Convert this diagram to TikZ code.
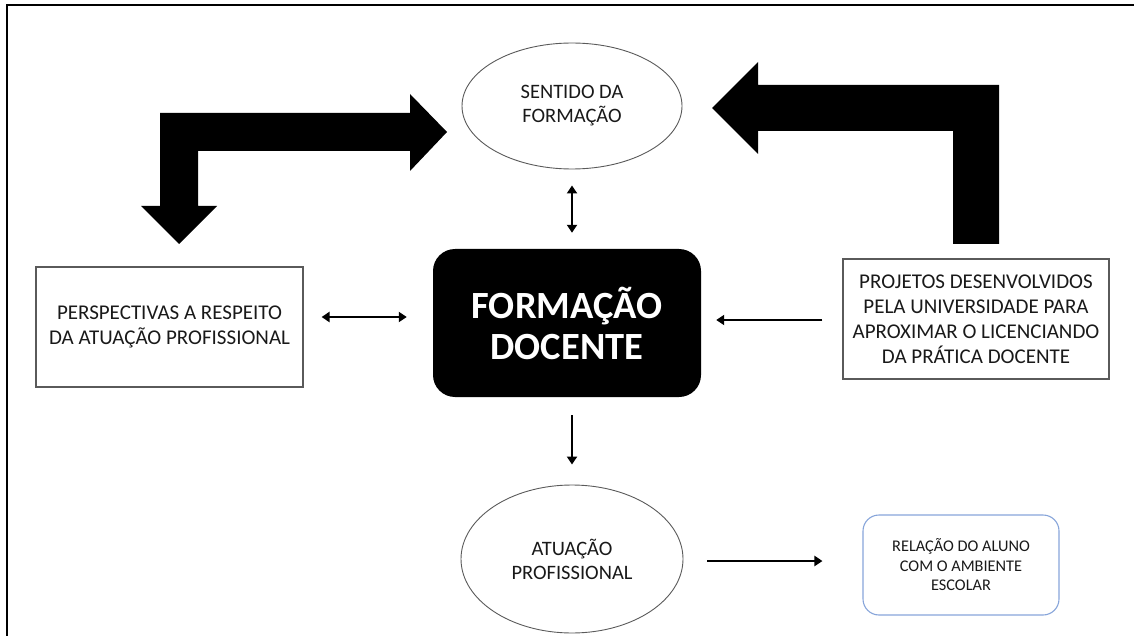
\documentclass[tikz,border=0pt]{standalone}
\usepackage{fontspec}
\setmainfont{Carlito}
\usetikzlibrary{shapes.geometric,arrows.meta}
\definecolor{txt}{RGB}{25,25,25}
\definecolor{edge}{RGB}{90,90,90}
\definecolor{blueedge}{RGB}{135,165,218}
\tikzset{
  ell/.style={ellipse,draw=edge,line width=0.9pt,inner sep=0pt,align=center,text=txt,font=\fontsize{20.5}{24}\selectfont},
  sqbox/.style={rectangle,draw=edge,line width=1.1pt,inner sep=0pt,align=center,text=txt,font=\fontsize{21}{25}\selectfont},
  mainbox/.style={rectangle,fill=black,rounded corners=22pt,inner sep=0pt,align=center,text=white,font=\fontsize{38.5}{41}\selectfont\bfseries},
  bluebox/.style={rectangle,draw=blueedge,line width=1.1pt,rounded corners=16pt,inner sep=0pt,align=center,text=txt,font=\fontsize{16.3}{19.5}\selectfont},
  conn/.style={line width=2.2pt,-{Triangle[length=8pt,width=10pt]}},
  dconn/.style={line width=2.2pt,{Triangle[length=8pt,width=10pt]}-{Triangle[length=8pt,width=10pt]}},
  bigarrow/.style={fill=black,draw=none}
}
\begin{document}
\begin{tikzpicture}[x=1pt,y=-1pt]
\useasboundingbox (0,0) rectangle (1134,636);
% frame
\draw[line width=1.6pt] (7,637) -- (7,5) -- (1135,5);

% nodes
\node[ell,minimum width=220pt,minimum height=126pt] (sent) at (572,106) {SENTIDO DA\\FORMAÇÃO};
\node[mainbox,minimum width=268pt,minimum height=148pt] (main) at (567,323) {FORMAÇÃO\\DOCENTE};
\node[sqbox,minimum width=267pt,minimum height=120pt] (persp) at (169.5,327) {PERSPECTIVAS A RESPEITO\\DA ATUAÇÃO PROFISSIONAL};
\node[sqbox,minimum width=266pt,minimum height=120pt] (proj) at (976,319) {PROJETOS DESENVOLVIDOS\\PELA UNIVERSIDADE PARA\\APROXIMAR O LICENCIANDO\\DA PRÁTICA DOCENTE};
\node[ell,minimum width=222pt,minimum height=148pt] (atua) at (572,559) {ATUAÇÃO\\PROFISSIONAL};
\node[bluebox,minimum width=196pt,minimum height=100pt] (rel) at (961,565) {RELAÇÃO DO ALUNO\\COM O AMBIENTE\\ESCOLAR};

% connectors
\draw[dconn,shorten <=16pt,shorten >=16pt] (sent.south) -- (sent.south |- main.north);
\draw[dconn,shorten <=18pt,shorten >=26pt] (persp.east |- 0,317) -- (main.west |- 0,317);
\draw[conn,shorten <=20pt,shorten >=15pt] (proj.west |- 0,320) -- (main.east |- 0,320);
\draw[conn,shorten <=18pt,shorten >=20pt] (atua.north |- main.south) -- (atua.north);
\draw[conn,shorten <=24pt,shorten >=40pt] (atua.east |- 0,561) -- (rel.west |- 0,561);

% big left arrow
\fill[bigarrow] (179,244) -- (141,206) -- (160,206) -- (160,113) -- (410,113) -- (410,94)
  -- (447,132) -- (410,171) -- (410,151) -- (198,151) -- (198,206) -- (217,206) -- cycle;
% big right arrow
\fill[bigarrow] (712,108) -- (758,62) -- (758,85) -- (999,85) -- (999,244)
  -- (953,244) -- (953,131) -- (758,131) -- (758,154) -- cycle;
\end{tikzpicture}
\end{document}
